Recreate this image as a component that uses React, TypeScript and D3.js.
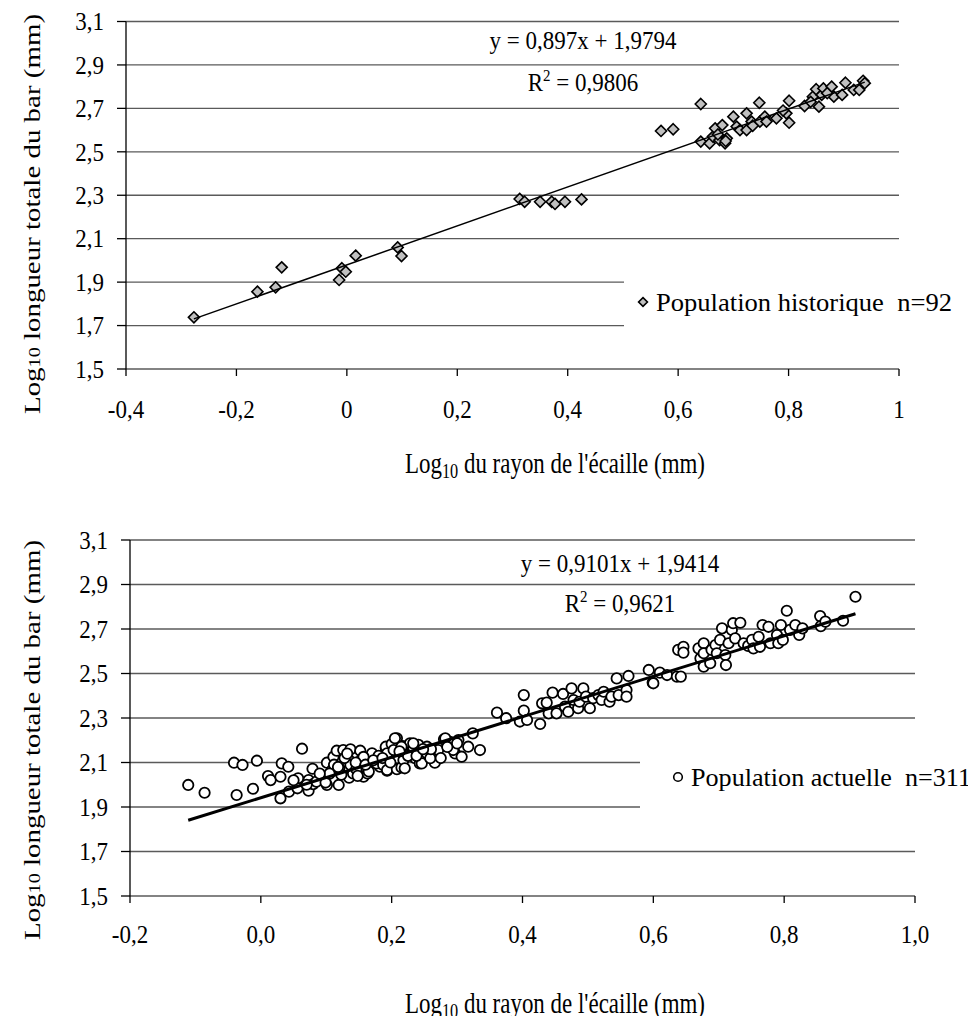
import React from "react";
import * as d3 from "d3";

// ---------- DATA ----------
const yTicks = [1.5, 1.7, 1.9, 2.1, 2.3, 2.5, 2.7, 2.9, 3.1];
const topXTicks = [-0.4, -0.2, 0, 0.2, 0.4, 0.6, 0.8, 1];
const topXTickLabels = ["-0,4", "-0,2", "0", "0,2", "0,4", "0,6", "0,8", "1"];
const botXTicks = [-0.2, 0, 0.2, 0.4, 0.6, 0.8, 1.0];
const botXTickLabels = ["-0,2", "0,0", "0,2", "0,4", "0,6", "0,8", "1,0"];
const yTickLabels = ["1,5", "1,7", "1,9", "2,1", "2,3", "2,5", "2,7", "2,9", "3,1"];

// Population historique (n=92)
const histX = [
  -0.277, -0.162, -0.129, -0.118, -0.014, -0.009, -0.002, 0.016, 0.092, 0.099,
  0.313, 0.322, 0.35, 0.371, 0.377, 0.395, 0.425, 0.569, 0.591, 0.641,
  0.641, 0.657, 0.663, 0.667, 0.675, 0.68, 0.685, 0.688, 0.7, 0.706,
  0.712, 0.724, 0.724, 0.733, 0.747, 0.748, 0.757, 0.76, 0.778, 0.796,
  0.801, 0.801, 0.829, 0.844, 0.85, 0.855, 0.86, 0.863, 0.878, 0.882,
  0.897, 0.903, 0.918, 0.928, 0.935, 0.938, 0.686, 0.672, 0.735, 0.79,
  0.84, 0.87,
];
const histY = [
  1.738, 1.856, 1.876, 1.968, 1.91, 1.964, 1.948, 2.022, 2.06, 2.02,
  2.283, 2.27, 2.27, 2.27, 2.26, 2.27, 2.281, 2.596, 2.604, 2.72,
  2.547, 2.539, 2.57, 2.608, 2.554, 2.623, 2.539, 2.562, 2.662, 2.616,
  2.6, 2.677, 2.6, 2.639, 2.726, 2.639, 2.662, 2.639, 2.654, 2.677,
  2.735, 2.634, 2.711, 2.754, 2.788, 2.708, 2.762, 2.792, 2.8, 2.754,
  2.762, 2.818, 2.785, 2.785, 2.827, 2.816, 2.55, 2.58, 2.62, 2.69,
  2.73, 2.77,
];

// Population actuelle (n=311)
const actX = [
  -0.111, -0.086, -0.041, -0.028, -0.037, -0.012, -0.006, 0.011, 0.015, 0.03,
  0.032, 0.03, 0.042, 0.043, 0.057, 0.056, 0.063, 0.073, 0.073, 0.079,
  0.08, 0.096, 0.101, 0.101, 0.109, 0.111, 0.116, 0.119, 0.12, 0.126,
  0.134, 0.135, 0.137, 0.137, 0.141, 0.152, 0.154, 0.157, 0.163, 0.17,
  0.175, 0.182, 0.191, 0.193, 0.202, 0.205, 0.208, 0.208, 0.085, 0.099,
  0.123, 0.146, 0.157, 0.177, 0.187, 0.191, 0.193, 0.2, 0.205, 0.208,
  0.215, 0.217, 0.218, 0.228, 0.233, 0.236, 0.241, 0.243, 0.25, 0.254,
  0.266, 0.268, 0.28, 0.289, 0.297, 0.302, 0.193, 0.203, 0.215, 0.218,
  0.22, 0.233, 0.246, 0.254, 0.259, 0.271, 0.282, 0.294, 0.3, 0.307,
  0.317, 0.324, 0.335, 0.361, 0.375, 0.396, 0.402, 0.402, 0.407, 0.427,
  0.43, 0.437, 0.44, 0.446, 0.452, 0.462, 0.465, 0.47, 0.475, 0.478,
  0.485, 0.487, 0.493, 0.497, 0.503, 0.508, 0.516, 0.521, 0.524, 0.533,
  0.536, 0.544, 0.547, 0.559, 0.559, 0.562, 0.593, 0.599, 0.61, 0.621,
  0.636, 0.638, 0.6, 0.642, 0.646, 0.646, 0.669, 0.672, 0.677, 0.677,
  0.677, 0.687, 0.689, 0.695, 0.697, 0.702, 0.705, 0.71, 0.711, 0.715,
  0.72, 0.722, 0.725, 0.733, 0.738, 0.745, 0.751, 0.753, 0.761, 0.763,
  0.767, 0.776, 0.779, 0.789, 0.791, 0.795, 0.798, 0.804, 0.809, 0.817,
  0.823, 0.828, 0.855, 0.856, 0.863, 0.89, 0.909, 0.128, 0.145, 0.112,
  0.165, 0.18, 0.105, 0.16, 0.225, 0.26, 0.285, 0.09, 0.07, 0.05,
  0.118, 0.132, 0.148, 0.172, 0.186, 0.198, 0.212, 0.238, 0.248, 0.275,
];
const actY = [
  1.999, 1.964, 2.099, 2.089, 1.954, 1.982, 2.108, 2.039, 2.021, 2.036,
  2.096, 1.939, 2.081, 1.969, 2.029, 1.984, 2.162, 2.021, 1.973, 2.072,
  2.003, 2.029, 2.099, 1.999, 2.066, 2.126, 2.153, 1.999, 2.074, 2.156,
  2.114, 2.032, 2.159, 2.089, 2.051, 2.153, 2.114, 2.036, 2.051, 2.141,
  2.099, 2.081, 2.164, 2.063, 2.183, 2.111, 2.209, 2.074, 2.014, 2.01,
  2.045, 2.07, 2.125, 2.096, 2.089, 2.171, 2.066, 2.183, 2.209, 2.07,
  2.078, 2.174, 2.141, 2.186, 2.168, 2.119, 2.179, 2.096, 2.156, 2.141,
  2.099, 2.141, 2.204, 2.193, 2.141, 2.201, 2.141, 2.156, 2.171, 2.111,
  2.074, 2.186, 2.096, 2.171, 2.119, 2.156, 2.209, 2.156, 2.186, 2.126,
  2.171, 2.231, 2.156, 2.324, 2.299, 2.284, 2.403, 2.333, 2.291, 2.273,
  2.366, 2.369, 2.321, 2.414, 2.321, 2.408, 2.351, 2.328, 2.433, 2.381,
  2.344, 2.373, 2.433, 2.396, 2.344, 2.389, 2.403, 2.381, 2.418, 2.373,
  2.396, 2.478, 2.403, 2.426, 2.396, 2.489, 2.516, 2.459, 2.504, 2.493,
  2.486, 2.606, 2.456, 2.486, 2.62, 2.594, 2.613, 2.568, 2.636, 2.591,
  2.531, 2.546, 2.606, 2.628, 2.591, 2.651, 2.703, 2.583, 2.538, 2.636,
  2.696, 2.726, 2.658, 2.728, 2.636, 2.624, 2.651, 2.613, 2.665, 2.62,
  2.718, 2.71, 2.636, 2.673, 2.636, 2.718, 2.651, 2.782, 2.696, 2.718,
  2.673, 2.703, 2.758, 2.713, 2.733, 2.737, 2.845, 2.12, 2.1, 2.09,
  2.06, 2.13, 2.05, 2.09, 2.13, 2.16, 2.17, 2.05, 2.0, 2.02,
  2.08, 2.14, 2.04, 2.11, 2.12, 2.1, 2.15, 2.13, 2.16, 2.12,
];

const histFit = { slope: 0.897, intercept: 1.9794 };
const actFit = { slope: 0.9101, intercept: 1.9414 };

const FONT = "'Liberation Serif', 'Times New Roman', Times, serif";

type PanelProps = {
  xs: number[];
  ys: number[];
  fit: { slope: number; intercept: number };
  xDomain: [number, number];
  xRange: [number, number];
  yRange: [number, number];
  xTicks: number[];
  xTickLabels: string[];
  shortGrid: number[];
  shortGridEnd: number;
  marker: "diamond" | "circle";
  eq: string;
  r2: string;
  eqCx: number;
  eqY: number;
  r2Y: number;
  legendText: string;
  legendX: number;
  legendY: number;
  legendLen: number;
  xTitleY: number;
  xTitleCx: number;
  yTitleCy: number;
  tickLabelY: number;
  lineWidth: number;
};

function Panel(p: PanelProps) {
  const x = d3.scaleLinear().domain(p.xDomain).range(p.xRange);
  const y = d3.scaleLinear().domain([1.5, 3.1]).range(p.yRange);
  const [x0, x1] = p.xRange;
  const xmin = d3.min(p.xs) as number;
  const xmax = d3.max(p.xs) as number;
  const line = d3.line<number>()
    .x((d) => x(d))
    .y((d) => y(p.fit.slope * d + p.fit.intercept));
  const diamond = d3.symbol().type(d3.symbolDiamond2).size(78)();
  return (
    <g fontFamily={FONT} fill="#000">
      {/* gridlines */}
      {yTicks.map((t) => (
        <line
          key={"g" + t}
          x1={x0}
          x2={p.shortGrid.some((s) => Math.abs(s - t) < 1e-9) ? p.shortGridEnd : x1}
          y1={y(t)}
          y2={y(t)}
          stroke="#5a5a5a"
          strokeWidth={1.3}
        />
      ))}
      {/* y axis */}
      <line x1={x0} x2={x0} y1={y(3.1)} y2={y(1.5)} stroke="#000" strokeWidth={1.3} />
      {yTicks.map((t, i) => (
        <g key={"yt" + t}>
          <line x1={x0 - 9} x2={x0} y1={y(t)} y2={y(t)} stroke="#000" strokeWidth={1.3} />
          <text
            transform={`translate(${x0 - 22},${y(t)}) scale(1,1.08)`}
            dy="0.35em"
            textAnchor="end"
            fontSize={23}
          >
            {yTickLabels[i]}
          </text>
        </g>
      ))}
      {/* x ticks */}
      {p.xTicks.map((t, i) => (
        <g key={"xt" + t}>
          <line x1={x(t)} x2={x(t)} y1={y(1.5)} y2={y(1.5) + 7} stroke="#000" strokeWidth={1.3} />
          <text
            transform={`translate(${x(t)},${p.tickLabelY}) scale(1,1.08)`}
            dy="0.35em"
            textAnchor="middle"
            fontSize={23}
          >
            {p.xTickLabels[i]}
          </text>
        </g>
      ))}
      {/* points */}
      {p.xs.map((xv, i) =>
        p.marker === "diamond" ? (
          <path
            key={"pt" + i}
            d={diamond as string}
            transform={`translate(${x(xv)},${y(p.ys[i])})`}
            fill="#c0c0c0"
            stroke="#000"
            strokeWidth={1.6}
          />
        ) : (
          <circle
            key={"pt" + i}
            cx={x(xv)}
            cy={y(p.ys[i])}
            r={5.2}
            fill="#fff"
            stroke="#000"
            strokeWidth={1.8}
          />
        )
      )}
      {/* trend line */}
      <path d={line([xmin, xmax]) as string} stroke="#000" strokeWidth={p.lineWidth} fill="none" />
      {/* equation */}
      <text
        transform={`translate(${p.eqCx},${p.eqY}) scale(1,1.08)`}
        dy="0.35em"
        textAnchor="middle"
        fontSize={23}
      >
        {p.eq}
      </text>
      <text
        transform={`translate(${p.eqCx},${p.r2Y}) scale(1,1.08)`}
        dy="0.35em"
        textAnchor="middle"
        fontSize={23}
      >
        R<tspan dy="-9" fontSize={15}>2</tspan>
        <tspan dy="9">{" = " + p.r2}</tspan>
      </text>
      {/* legend */}
      {p.marker === "diamond" ? (
        <path
          d={d3.symbol().type(d3.symbolDiamond2).size(50)() as string}
          transform={`translate(${p.legendX},${p.legendY})`}
          fill="#c0c0c0"
          stroke="#000"
          strokeWidth={1.6}
        />
      ) : (
        <circle cx={p.legendX} cy={p.legendY} r={4.3} fill="#fff" stroke="#000" strokeWidth={1.6} />
      )}
      <text
        transform={`translate(${p.legendX + 13},${p.legendY}) scale(1,1.08)`}
        dy="0.35em"
        fontSize={23}
        textLength={p.legendLen}
        lengthAdjust="spacingAndGlyphs"
        style={{ whiteSpace: "pre" }}
      >
        {p.legendText}
      </text>
      {/* x title */}
      <text
        transform={`translate(${p.xTitleCx},${p.xTitleY}) scale(1,1.2)`}
        dy="0.35em"
        textAnchor="middle"
        fontSize={24}
        textLength={300}
        lengthAdjust="spacingAndGlyphs"
      >
        Log<tspan fontSize={17} dy="4">10</tspan>
        <tspan dy="-4"> du rayon de l'écaille (mm)</tspan>
      </text>
      {/* y title */}
      <text
        transform={`translate(32,${p.yTitleCy}) rotate(-90)`}
        textAnchor="middle"
        dy="0.35em"
        fontSize={23}
        textLength={400}
        lengthAdjust="spacingAndGlyphs"
      >
        Log<tspan fontSize={16}>10</tspan> longueur totale du bar (mm)
      </text>
    </g>
  );
}

export default function App() {
  return (
    <svg width={976} height={1024} style={{ display: "block", margin: -8 }} xmlns="http://www.w3.org/2000/svg">
      <rect width={976} height={1024} fill="#fff" />
      <Panel
        xs={histX}
        ys={histY}
        fit={histFit}
        xDomain={[-0.4, 1]}
        xRange={[126, 899]}
        yRange={[369, 21.5]}
        xTicks={topXTicks}
        xTickLabels={topXTickLabels}
        shortGrid={[1.7, 1.9]}
        shortGridEnd={624}
        marker="diamond"
        eq="y = 0,897x + 1,9794"
        r2="0,9806"
        eqCx={583}
        eqY={40}
        r2Y={82}
        legendText="Population historique  n=92"
        legendX={643}
        legendY={302}
        legendLen={296}
        xTitleY={463}
        xTitleCx={555}
        yTitleCy={214}
        tickLabelY={409}
        lineWidth={1.5}
      />
      <Panel
        xs={actX}
        ys={actY}
        fit={actFit}
        xDomain={[-0.2, 1.0]}
        xRange={[130, 915]}
        yRange={[896, 540]}
        xTicks={botXTicks}
        xTickLabels={botXTickLabels}
        shortGrid={[1.9, 2.1]}
        shortGridEnd={640}
        marker="circle"
        eq="y = 0,9101x + 1,9414"
        r2="0,9621"
        eqCx={620}
        eqY={563}
        r2Y={603}
        legendText="Population actuelle  n=311"
        legendX={678}
        legendY={777}
        legendLen={280}
        xTitleY={1003}
        xTitleCx={555}
        yTitleCy={740}
        tickLabelY={934}
        lineWidth={3}
      />
    </svg>
  );
}
